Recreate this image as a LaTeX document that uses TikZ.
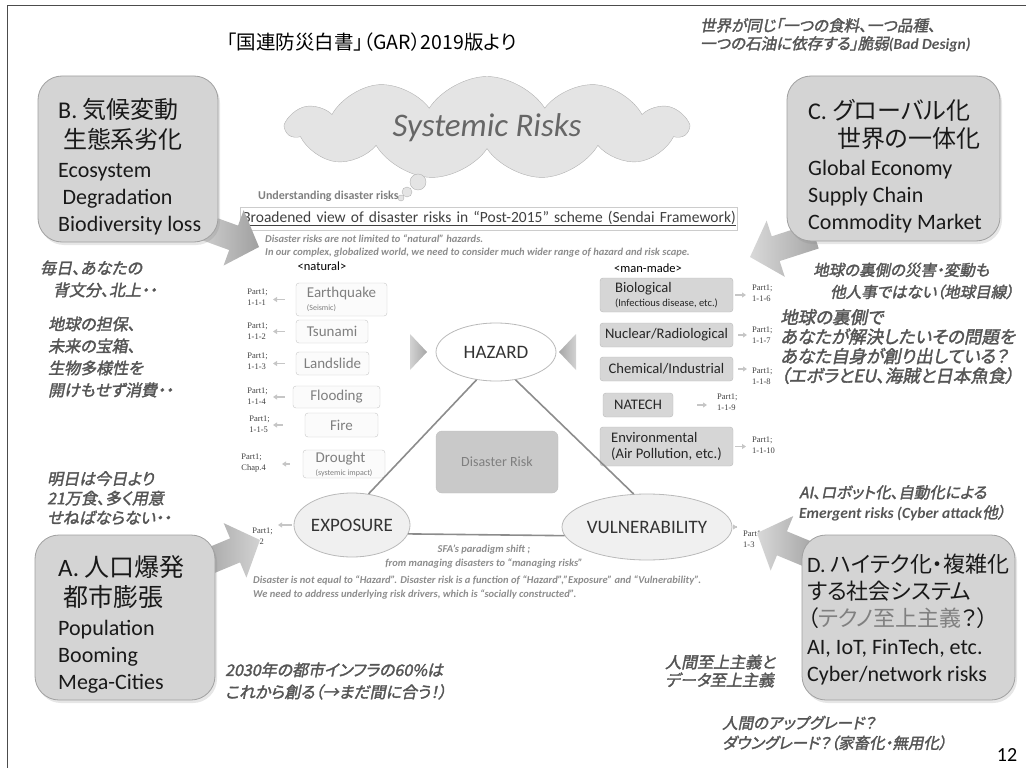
\documentclass[tikz,border=0pt]{standalone}
\usepackage{fontspec}
\setmainfont{Carlito}
\newfontfamily\jp[RawFeature=+palt]{Noto Sans CJK JP}
\newfontfamily\jpnote[RawFeature=+palt,FakeSlant=0.2,FakeBold=2]{Noto Sans CJK JP}
\newfontfamily\partfont{Liberation Serif}
\usetikzlibrary{positioning, arrows.meta, shapes.symbols, shapes.geometric, shadows}

\definecolor{boxgray}{HTML}{D4D4D4}
\definecolor{boxline}{HTML}{A0A0A0}
\definecolor{notegray}{HTML}{555555}
\definecolor{cloudgray}{HTML}{E4E4E4}
\definecolor{textgray}{HTML}{7F7F7F}
\definecolor{mangray}{HTML}{D6D6D6}
\definecolor{riskgray}{HTML}{C9C9C9}
\definecolor{linegray}{HTML}{8C8C8C}

\newcommand{\ltn}[1]{{\normalfont\bfseries\itshape #1}}
% fat arrow: tip x, tip y, direction, length, shading colours
\newcommand{\fatarrow}[5]{%
  \shade[#5, shift={(#1,#2)}, rotate=#3]
    (0,0) -- (-27,-29.5) -- (-27,-13) -- (-#4,-13) -- (-#4,13) -- (-27,13) -- (-27,29.5) -- cycle;}

\tikzset{
  bigbox/.style={draw=boxline, fill=boxgray, rounded corners=24pt, line width=0.8pt, inner sep=0pt,
    drop shadow={opacity=0.2, shadow xshift=2pt, shadow yshift=-3pt}},
  boxtext/.style={align=left, inner sep=0pt, anchor=north west, font=\fontsize{22}{27}\selectfont, text=black!90},
  note/.style={align=left, inner sep=0pt, anchor=west, text=notegray, font=\jpnote\fontsize{16}{22}\selectfont},
  natbox/.style={draw=gray!45, fill=gray!3, rounded corners=3pt, text=textgray, align=left,
    font=\fontsize{15}{13}\selectfont, inner sep=0pt},
  manbox/.style={draw=gray!55, fill=mangray, rounded corners=3pt, text=black!85, align=left,
    font=\fontsize{14.6}{14}\selectfont, inner sep=0pt},
  partlbl/.style={align=left, inner sep=0pt, font=\partfont\fontsize{8.5}{10.5}\selectfont, text=black!75},
  partarrow/.style={-{Triangle[length=4pt,width=5pt]}, line width=1.4pt, draw=gray!45},
  riskell/.style={ellipse, draw=gray!55, line width=0.8pt, inner sep=0pt, font=\fontsize{19}{20}\selectfont, text=black!80},
  sideline/.style={draw=linegray, line width=1.6pt},
  remark/.style={font=\bfseries\itshape\fontsize{10.5}{13.5}\selectfont, text=linegray, inner sep=0pt}
}

\begin{document}
\begin{tikzpicture}[x=1pt, y=-1pt]
\useasboundingbox (0,0) rectangle (1026,768);

% slide frame
\draw[line width=1pt, black!70] (7,768) -- (7,6) -- (1026,6);

% title and page number
\node[font=\jp\fontsize{19.5}{24}\selectfont, inner sep=0pt, anchor=west] (title) at (227,42) {「国連防災白書」（GAR）2019版より};
\node[font=\fontsize{20}{24}\selectfont, inner sep=0pt] (pageno) at (1007,755) {12};

% cloud
\node[cloud, cloud puffs=11, cloud puff arc=115, cloud ignores aspect, draw=gray!60, fill=cloudgray,
  minimum width=400pt, minimum height=103pt, inner sep=0pt,
  font=\itshape\fontsize{33}{36}\selectfont, text=black!60] (cloud) at (487,128) {Systemic Risks};
\node[circle, draw=gray!60, fill=cloudgray, minimum size=16pt, inner sep=0pt] (bub1) at (418,182) {};
\node[circle, draw=gray!60, fill=cloudgray, minimum size=10pt, inner sep=0pt] (bub2) at (407,192) {};
\node[circle, draw=gray!60, fill=cloudgray, minimum size=6pt, inner sep=0pt] (bub3) at (401,198) {};

% heading of the scheme
\node[anchor=west, font=\bfseries\fontsize{12}{14}\selectfont, text=textgray, inner sep=0pt] (underst) at (258,196) {Understanding disaster risks};
\node[draw=gray!40, fill=white, line width=0.6pt, anchor=west, text width=493pt, align=left, inner xsep=2pt,
  minimum height=23pt, text=black!75, font=\fontsize{15.5}{17}\selectfont] (sendai) at (240,218.5)
  {\underline{Broadened view of disaster risks in “Post-2015” scheme (Sendai Framework)}};
\node[remark, anchor=west, align=left] (notlimited) at (265,246)
  {Disaster risks are not limited to “natural” hazards.\\
   In our complex, globalized world, we need to consider much wider range of hazard and risk scape.};
\node[font=\fontsize{12.5}{14}\selectfont, inner sep=0pt] (natural) at (322,266) {<natural>};
\node[font=\fontsize{12.5}{14}\selectfont, inner sep=0pt] (manmade) at (648,268) {<man-made>};

% natural hazards
\node[natbox, minimum width=91pt, minimum height=33pt] (eq) at (341.5,299.5) {Earthquake\\{\fontsize{8}{9}\selectfont (Seismic)}};
\node[natbox, minimum width=72pt, minimum height=23pt] (ts) at (332,331.5) {Tsunami};
\node[natbox, minimum width=73pt, minimum height=23pt] (la) at (332.5,363.5) {Landslide};
\node[natbox, minimum width=87pt, minimum height=22pt] (fl) at (336.5,397) {Flooding};
\node[natbox, minimum width=73pt, minimum height=24pt] (fi) at (341.5,425) {Fire};
\node[natbox, minimum width=82pt, minimum height=28pt] (dr) at (344,464) {Drought\\{\fontsize{8}{9}\selectfont (systemic impact)}};

\node[partlbl, anchor=east] (pEq) at (268,297) {Part1;\\1-1-1};
\node[partlbl, anchor=east] (pTs) at (268,331) {Part1;\\1-1-2};
\node[partlbl, anchor=east] (pLa) at (268,361) {Part1;\\1-1-3};
\node[partlbl, anchor=east] (pFl) at (268,396) {Part1;\\1-1-4};
\node[partlbl, anchor=east] (pFi) at (270,424) {Part1;\\1-1-5};
\node[partlbl, anchor=east] (pDr) at (266,463) {Part1;\\Chap.4};

\draw[partarrow, shorten <=11pt, shorten >=5pt] (eq.west) -- (eq.west -| pEq.east);
\draw[partarrow, shorten <=11pt, shorten >=5pt] (ts.west) -- (ts.west -| pTs.east);
\draw[partarrow, shorten <=11pt, shorten >=5pt] (la.west) -- (la.west -| pLa.east);
\draw[partarrow, shorten <=8pt, shorten >=5pt] (fl.west) -- (fl.west -| pFl.east);
\draw[partarrow, shorten <=22pt, shorten >=3pt] (fi.west) -- (fi.west -| pFi.east);
\draw[partarrow, shorten <=13pt, shorten >=16pt] (dr.west) -- (dr.west -| pDr.east);

% man-made hazards
\node[manbox, minimum width=133pt, minimum height=34pt] (bio) at (666.5,295) {Biological\\{\fontsize{10.5}{11}\selectfont (Infectious disease, etc.)}};
\node[manbox, minimum width=133pt, minimum height=24pt] (nuc) at (666.5,335) {Nuclear/Radiological};
\node[manbox, minimum width=133pt, minimum height=24pt] (che) at (666.5,369) {Chemical/Industrial};
\node[manbox, minimum width=70pt, minimum height=24pt] (nat) at (638,405) {NATECH};
\node[manbox, minimum width=133pt, minimum height=39pt] (env) at (666.5,446.5) {Environmental\\[2pt](Air Pollution, etc.)};

\node[partlbl, anchor=west] (pBio) at (752,293) {Part1;\\1-1-6};
\node[partlbl, anchor=west] (pNuc) at (752,335) {Part1;\\1-1-7};
\node[partlbl, anchor=west] (pChe) at (752,376) {Part1;\\1-1-8};
\node[partlbl, anchor=west] (pNat) at (717,402) {Part1;\\1-1-9};
\node[partlbl, anchor=west] (pEnv) at (752,445) {Part1;\\1-1-10};

\draw[partarrow, shorten <=2pt, shorten >=6pt] (bio.east) -- (bio.east -| pBio.west);
\draw[partarrow, shorten <=5pt, shorten >=5pt] (nuc.east) -- (nuc.east -| pNuc.west);
\draw[partarrow, shorten <=5pt, shorten >=5pt] (che.east) -- (che.east -| pChe.west);
\draw[partarrow, shorten <=24pt, shorten >=10pt] (nat.east) -- (nat.east -| pNat.west);
\draw[partarrow, shorten <=2pt, shorten >=6pt] (env.east) -- (env.east -| pEnv.west);

% risk triangle
\node[riskell, fill=white, minimum width=120pt, minimum height=58pt] (hazard) at (496,352) {HAZARD};
\node[riskell, fill=gray!12, minimum width=114pt, minimum height=64pt] (exposure) at (352,525) {EXPOSURE};
\node[riskell, fill=gray!12, minimum width=150pt, minimum height=66pt] (vuln) at (647,527) {VULNERABILITY};
\draw[sideline] (hazard.235) -- (exposure.62);
\draw[sideline] (hazard.-55) -- (vuln.112);
\draw[sideline] (exposure.-9) -- (vuln.186);
\node[draw=gray!50, fill=riskgray, rounded corners=6pt, minimum width=122pt, minimum height=62pt,
  text=textgray, font=\fontsize{14}{16}\selectfont] (drisk) at (497,462) {Disaster Risk};
\shade[left color=gray!35, right color=gray!70] (410,334) -- (427,352) -- (410,370) -- cycle;
\shade[left color=gray!70, right color=gray!35] (576,334) -- (559,352) -- (576,370) -- cycle;

\node[partlbl, anchor=east] (pExp) at (273,536) {Part1;\\1-2};
\node[partlbl, anchor=west] (pVul) at (743,539) {Part1;\\1-3};
\draw[partarrow, shorten <=2pt, shorten >=5pt] (exposure.west) -- (exposure.west -| pExp.east);
\draw[partarrow, shorten <=5pt, shorten >=6pt] (vuln.east) -- (vuln.east -| pVul.west);

\node[remark, align=center] (sfa) at (484,556.5) {SFA’s paradigm shift ;\\from managing disasters to “managing risks”};
\node[remark, anchor=west, align=left] (notequal) at (253,587.5)
  {Disaster is not equal to “Hazard”. Disaster risk is a function of “Hazard”,”Exposure” and “Vulnerability”.\\
   We need to address underlying risk drivers, which is “socially constructed”.};

% comments in Japanese
\node[note] (mainichi) at (40,279) {毎日、あなたの\\\hspace*{0.8em}背文分、北上・・};
\node[note] (chikyu) at (48,357) {地球の担保、\\未来の宝箱、\\生物多様性を\\開けもせず消費・・};
\node[note, font=\jpnote\fontsize{16}{19.5}\selectfont] (ashita) at (47,498) {明日は今日より\\21万食、多く用意\\せねばならない・・};
\node[note] (infra) at (225,681) {2030年の都市インフラの60\%は\\これから創る（→まだ間に合う！）};
\node[note, font=\jpnote\fontsize{15.5}{18}\selectfont] (sekai) at (700,35) {世界が同じ「一つの食料、一つ品種、\\一つの石油に依存する」脆弱\ltn{(Bad Design)}};
\node[note, font=\jpnote\fontsize{15.5}{22}\selectfont] (uragawa) at (813,281) {地球の裏側の災害・変動も\\\hspace*{1.1em}他人事ではない（地球目線）};
\node[note, font=\jpnote\fontsize{17.5}{19.5}\selectfont] (kaiketsu) at (780,346.5) {地球の裏側で\\あなたが解決したいその問題を\\あなた自身が創り出している？\\（エボラとEU、海賊と日本魚食）};
\node[note, font=\jpnote\fontsize{15.5}{20}\selectfont] (airobot) at (799,503) {AI、ロボット化、自動化による\\\ltn{Emergent risks (Cyber attack}他）};
\node[note, font=\jpnote\fontsize{16}{18}\selectfont] (ningen) at (665,671) {人間至上主義と\\データ至上主義};
\node[note, font=\jpnote\fontsize{15.5}{20}\selectfont] (upgrade) at (722,733) {人間のアップグレード？\\ダウングレード？（家畜化・無用化）};

% fat arrows from the four drivers
\fatarrow{260}{540}{22.6}{66}{left color=gray!75, right color=gray!35}
\fatarrow{259}{247}{-19.9}{62}{left color=gray!35, right color=gray!75}
\fatarrow{750}{257}{197.9}{68}{left color=gray!30, right color=gray!70}
\fatarrow{757}{533}{157.5}{63}{left color=gray!30, right color=gray!75}

% four drivers
\node[bigbox, minimum width=180pt, minimum height=166pt] (boxB) at (128,159) {};
\node[boxtext] (txtB) at (58,98)
  {{\fontsize{24}{27}\selectfont B. \jp 気候変動}\\[3pt]
   {\jp\fontsize{24}{27}\selectfont\hspace*{0.2em}生態系劣化}\\[2pt]
   Ecosystem\\ \hspace*{0.2em}Degradation\\ Biodiversity loss};
\node[bigbox, minimum width=213pt, minimum height=165pt] (boxC) at (893.5,158.5) {};
\node[boxtext] (txtC) at (808,99)
  {{\fontsize{24}{27}\selectfont C. \jp グローバル化}\\[1pt]
   {\jp\fontsize{24}{27}\selectfont\hspace*{1.2em}世界の一体化}\\[1pt]
   Global Economy\\ Supply Chain\\ Commodity Market};
\node[bigbox, minimum width=180pt, minimum height=165pt] (boxA) at (125,617.5) {};
\node[boxtext] (txtA) at (58,555)
  {{\fontsize{25}{27}\selectfont A. \jp 人口爆発}\\[3pt]
   {\jp\fontsize{25}{27}\selectfont\hspace*{0.2em}都市膨張}\\[2pt]
   Population\\ Booming\\ Mega-Cities};
\node[bigbox, minimum width=213pt, minimum height=165pt] (boxD) at (908.5,617.5) {};
\node[boxtext] (txtD) at (807,554)
  {{\fontsize{22}{27}\selectfont D. \jp ハイテク化・複雑化}\\
   {\jp\fontsize{22}{27}\selectfont する社会システム}\\
   {\jp\fontsize{22}{27}\selectfont （{\color{gray}テクノ至上主義}？）}\\[1pt]
   AI, IoT, FinTech, etc.\\ Cyber/network risks};

\end{tikzpicture}
\end{document}
